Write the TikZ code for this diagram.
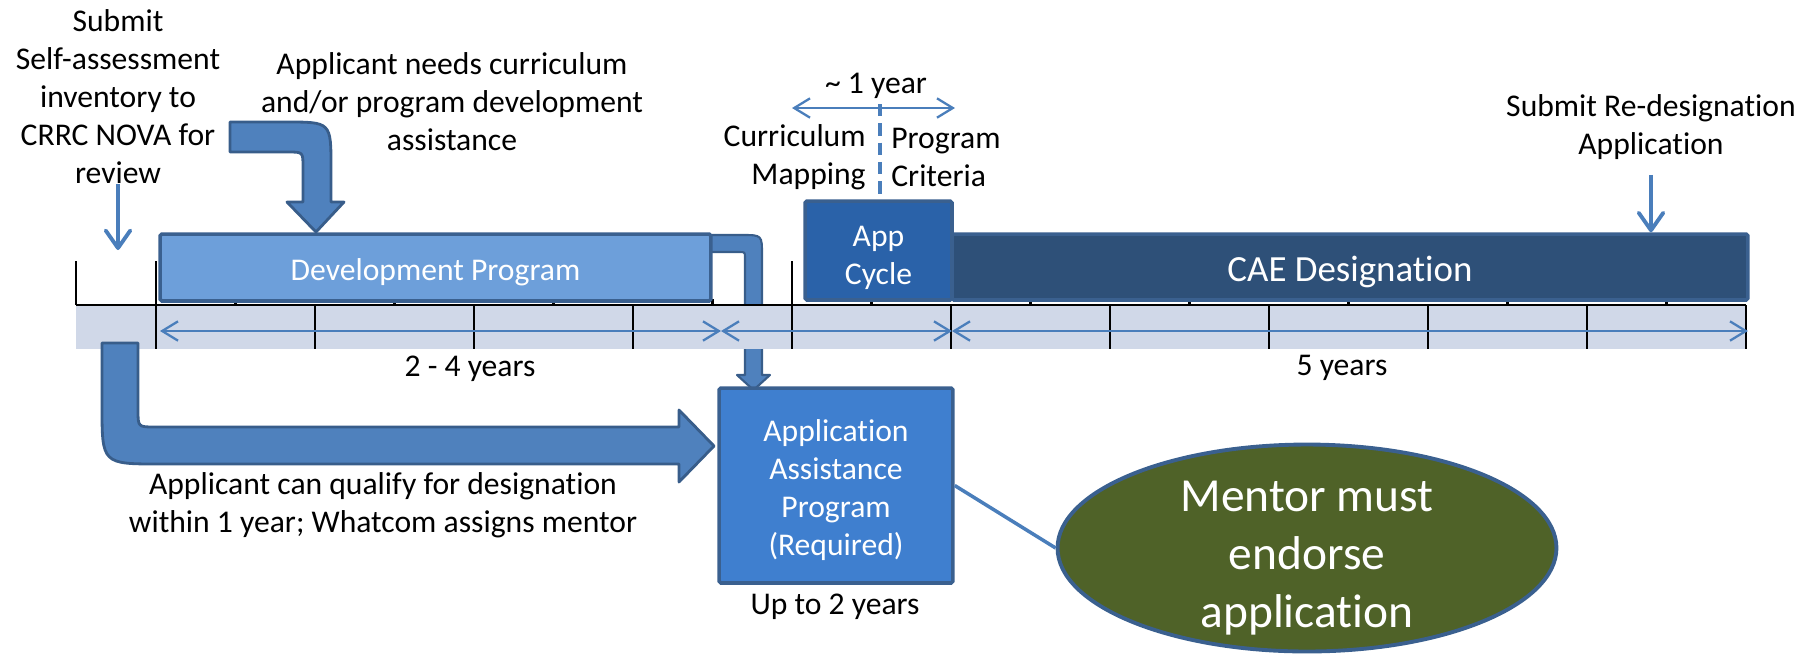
\documentclass[tikz,border=0pt]{standalone}
\usepackage{fontspec}
\setmainfont{Carlito}[Ligatures=NoCommon]
\usetikzlibrary{arrows.meta,shapes.geometric}

\definecolor{bandcol}{RGB}{208,216,232}
\definecolor{devfill}{RGB}{109,159,218}
\definecolor{appfill}{RGB}{42,98,169}
\definecolor{caefill}{RGB}{46,80,120}
\definecolor{aapfill}{RGB}{63,127,207}
\definecolor{boxline}{RGB}{58,96,143}
\definecolor{arrowfill}{RGB}{79,129,189}
\definecolor{arrowline}{RGB}{56,93,138}
\definecolor{linecol}{RGB}{74,126,187}
\definecolor{mentorfill}{RGB}{79,98,40}

\begin{document}
\begin{tikzpicture}[x=0.02cm, y=-0.02cm,
  lbl/.style={align=center, inner sep=0pt, font=\fontsize{18}{21.6}\selectfont},
  wlbl/.style={lbl, text=white},
  boxnode/.style={draw=boxline, line width=2pt, rounded corners=1pt, inner sep=0pt},
  tickline/.style={black, line width=1.2pt},
  spanarrow/.style={linecol, line width=1.3pt,
    {Straight Barb[length=9pt,width=11pt]}-{Straight Barb[length=9pt,width=11pt]}},
  droparrow/.style={linecol, line width=2.2pt, -{Straight Barb[length=10pt,width=14pt,round]}},
  dashline/.style={linecol, line width=1.8pt, dash pattern=on 7pt off 4pt},
  bigarrow/.style={fill=arrowfill, draw=arrowline, line width=1.6pt, line join=round}]

  \useasboundingbox (0,0) rectangle (1809,654);

  % Small bent arrow from the development program down to the assistance box
  \draw[bigarrow, line width=1.2pt] (700,235) -- (742,235) .. controls (762,235) .. (762,255)
    -- (762,375) -- (770,375) -- (753.5,390) -- (737,375) -- (745,375) -- (745,258)
    .. controls (745,252) .. (739,252) -- (700,252) -- cycle;

  % Timeline band with ticks
  \fill[bandcol] (76,305) rectangle (1746,349);
  \foreach \i in {0,...,10}
    \draw[tickline] ({156+159*\i},305) -- ({156+159*\i},349);
  \foreach \i in {0,...,9}
    \draw[tickline] ({235.5+159*\i},299) -- ({235.5+159*\i},305);
  \foreach \x in {76,156,792}
    \draw[tickline] (\x,261) -- (\x,305);
  \draw[tickline] (76,305) -- (1746,305);

  % Phase boxes on the timeline
  \node[boxnode, fill=devfill, minimum width=11.02cm, minimum height=1.34cm] (dev) at (435.5,267.5) {};
  \node[wlbl] (devtext) at (435.5,272) {Development Program};
  \node[boxnode, fill=caefill, minimum width=15.92cm, minimum height=1.32cm] (cae) at (1350,267) {};
  \node[wlbl, font=\fontsize{21}{25}\selectfont] (caetext) at (1350,272) {CAE Designation};
  \node[boxnode, fill=appfill, minimum width=2.94cm, minimum height=1.98cm] (app) at (878.5,250.5) {};
  \node[wlbl] (apptext) at (878.5,258) {App\\Cycle};

  % Durations in the band
  \coordinate (s0) at (160,331);
  \coordinate (s1) at (721,331);
  \coordinate (s2) at (952,331);
  \coordinate (s3) at (1748,331);
  \draw[spanarrow] (s0) -- (s1);
  \draw[spanarrow] (s1) -- (s2);
  \draw[spanarrow] (s2) -- (s3);
  \node[lbl] (dur1) at (470,369) {2 - 4 years};
  \node[lbl] (dur2) at (1342,368) {5 years};

  % One year span over the app cycle
  \coordinate (y0) at (792,108);
  \coordinate (y1) at (955,108);
  \draw[spanarrow] (y0) -- (y1);
  \node[lbl] (oneyr) at (876,86) {\textasciitilde\ 1 year};
  \coordinate (dtop) at (880,104);
  \draw[dashline] (dtop) -- (dtop |- app.north);
  \node[lbl, anchor=east, align=right] (curmap) at (866,157) {Curriculum\\Mapping};
  \node[lbl, anchor=west, align=left] (progcrit) at (891,157) {Program\\Criteria};

  % Bent arrow into the development program
  \draw[bigarrow] (230,122) -- (286,122) .. controls (331,122) .. (331,167) -- (331,202)
    -- (344,202) -- (316,232) -- (287,202) -- (303,202) -- (303,167)
    .. controls (303,152) .. (288,152) -- (230,152) -- cycle;

  % Bent arrow to the assistance program
  \draw[bigarrow] (102,343) -- (138,343) -- (138,410) .. controls (138,427) .. (155,427)
    -- (679,427) -- (679,410) -- (714,446) -- (679,482) -- (679,464) -- (160,464)
    .. controls (102,464) .. (102,406) -- cycle;

  % Assistance program and mentor
  \node[boxnode, fill=aapfill, minimum width=4.68cm, minimum height=3.9cm] (aap) at (836,485.5) {};
  \node[wlbl] (aaptext) at (836,490) {Application\\Assistance\\Program\\(Required)};
  \node[lbl] (upto) at (835,607) {Up to 2 years};
  \node[ellipse, draw=boxline, line width=2.2pt, fill=mentorfill,
    minimum width=9.98cm, minimum height=4.14cm] (mentor) at (1307,548) {};
  \node[wlbl, font=\fontsize{27}{33}\selectfont] (mentortext) at (1307,558)
    {Mentor must\\endorse\\application};
  \draw[linecol, line width=2pt] (aap.east) -- (mentor.west);

  % Notes and their arrows
  \node[lbl] (submit) at (118,97) {Submit\\Self-assessment\\inventory to\\CRRC NOVA for\\review};
  \coordinate (submitend) at (118,250);
  \draw[droparrow] (submit.south) -- (submitend);
  \node[lbl] (needs) at (452,102) {Applicant needs curriculum\\and/or program development\\assistance};
  \node[lbl] (qualify) at (383,505) {Applicant can qualify for designation\\within 1 year; Whatcom assigns mentor};
  \node[lbl] (redesig) at (1651,127) {Submit Re-designation\\Application};
  \draw[droparrow, shorten <=0.3cm] (redesig.south) -- (redesig.south |- cae.north);

\end{tikzpicture}
\end{document}
